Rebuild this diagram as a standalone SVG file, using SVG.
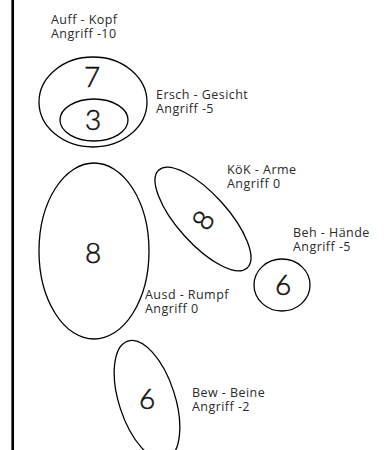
<svg xmlns="http://www.w3.org/2000/svg" width="384" height="450" viewBox="0 0 384 450">
  <style>
    .part { fill: none; stroke: #000; stroke-width: 1.3; }
    .num { font-family: Lato, "Open Sans", sans-serif; font-weight: 300; font-size: 28px; fill: #111; stroke: #111; stroke-width: 0.55; text-anchor: middle; }
    .lbl { font-family: "Open Sans", Lato, sans-serif; font-size: 12.5px; letter-spacing: 0.45px; fill: #2a2a2a; }
  </style>
  <rect width="384" height="450" fill="#fff"/>
  <!-- body axis line -->
  <line x1="12.7" y1="0" x2="12.7" y2="450" stroke="#000" stroke-width="2.7"/>

  <g id="kopf">
    <ellipse class="part" cx="93" cy="102" rx="54" ry="45"/>
    <text class="num" x="92" y="87">7</text>
    <text class="lbl" x="51" y="23.5">Auff - Kopf</text>
    <text class="lbl" x="51" y="37.5">Angriff -10</text>
  </g>
  <g id="gesicht">
    <ellipse class="part" cx="94" cy="120" rx="34" ry="21"/>
    <text class="num" x="93" y="130">3</text>
    <text class="lbl" x="156" y="98.5">Ersch - Gesicht</text>
    <text class="lbl" x="156" y="112.5">Angriff -5</text>
  </g>
  <g id="rumpf">
    <ellipse class="part" cx="94" cy="251" rx="55" ry="88"/>
    <text class="num" x="93" y="263">8</text>
    <text class="lbl" x="145" y="299">Ausd - Rumpf</text>
    <text class="lbl" x="145" y="313">Angriff 0</text>
  </g>
  <g id="arme">
    <ellipse class="part" cx="203" cy="219" rx="25" ry="66" transform="rotate(-42 203 219)"/>
    <text class="num" x="203" y="230" transform="rotate(-58 203 220)">8</text>
    <text class="lbl" x="227" y="174">KöK - Arme</text>
    <text class="lbl" x="227" y="188">Angriff 0</text>
  </g>
  <g id="haende">
    <ellipse class="part" cx="282" cy="285" rx="28" ry="26"/>
    <text class="num" x="283" y="295">6</text>
    <text class="lbl" x="293" y="237">Beh - Hände</text>
    <text class="lbl" x="293" y="251">Angriff -5</text>
  </g>
  <g id="beine">
    <ellipse class="part" cx="147" cy="400" rx="28" ry="62" transform="rotate(-18 147 400)"/>
    <text class="num" x="147" y="409">6</text>
    <text class="lbl" x="192" y="397">Bew - Beine</text>
    <text class="lbl" x="192" y="411">Angriff -2</text>
  </g>
  <g id="connectors"/>
</svg>
